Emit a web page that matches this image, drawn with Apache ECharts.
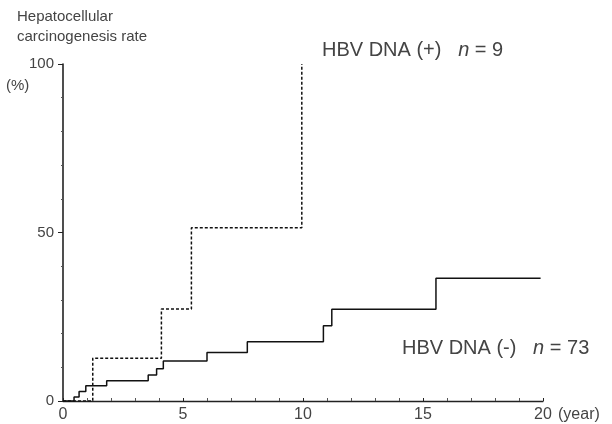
<!DOCTYPE html>
<html style="height: 100%">
   <head>
       <meta charset="utf-8">
   </head>
   <body style="height: 100%; margin: 0; background: #fff">
       <div id="container" style="height: 100%"></div>
       <script type="text/javascript" src="https://cdn.jsdelivr.net/npm/echarts@6/dist/echarts.min.js"></script>
       <script type="text/javascript">
// HBV DNA (+) group, n = 9 (year of step, cumulative rate %)
var plusYears = [0, 1.24, 4.1, 5.35, 9.95];
var plusRates = [0, 12.7, 27.3, 51.4, 100];
// HBV DNA (-) group, n = 73
var minusYears = [0, 0.46, 0.67, 0.95, 1.82, 3.55, 3.9, 4.18, 6.0, 7.68, 10.85, 11.2, 15.54, 19.9];
var minusRates = [0, 1.2, 2.8, 4.5, 6.0, 7.7, 9.6, 11.9, 14.4, 17.6, 22.3, 27.2, 36.4, 36.4];
var yTicks = [0, 50, 100];
var xTicks = [0, 5, 10, 15, 20];

var pairs = function (xs, ys) {
    var res = [];
    for (var i = 0; i < xs.length; i++) {
        res.push([xs[i], ys[i]]);
    }
    return res;
};

var dom = document.getElementById("container");
var myChart = echarts.init(dom);
var font = 'Liberation Sans, Arial, sans-serif';
var ink = '#444';

var option = {
    animation: false,
    textStyle: {fontFamily: font},
    title: {
        text: 'Hepatocellular\ncarcinogenesis rate',
        left: 12,
        top: 2,
        textStyle: {fontSize: 15, fontWeight: 'normal', color: ink, lineHeight: 20, fontFamily: font}
    },
    grid: {left: 63, right: 69, top: 64, bottom: 23},
    xAxis: {
        type: 'value',
        min: 0,
        max: 20,
        interval: 5,
        name: '(year)',
        nameLocation: 'end',
        nameGap: 15,
        nameTextStyle: {color: ink, fontSize: 16, verticalAlign: 'top', padding: [6, 0, 0, 0]},
        axisLine: {lineStyle: {color: '#222', width: 1.3}},
        axisTick: {show: true, length: 3, inside: true, lineStyle: {color: '#222'}},
        minorTick: {show: true, splitNumber: 5, length: 3, lineStyle: {color: '#555'}},
        axisLabel: {
            color: ink, fontSize: 16, margin: 6,
            formatter: function (v) { return xTicks.indexOf(v) >= 0 ? String(v) : ''; }
        },
        splitLine: {show: false}
    },
    yAxis: {
        type: 'value',
        min: 0,
        max: 100,
        interval: 50,
        axisLine: {show: true, lineStyle: {color: '#222', width: 1.6}},
        axisTick: {show: true, length: 5, lineStyle: {color: '#222'}},
        minorTick: {show: true, splitNumber: 5, length: 2, lineStyle: {color: '#555'}},
        axisLabel: {
            color: ink, fontSize: 15, margin: 9,
            formatter: function (v) { return yTicks.indexOf(v) >= 0 ? String(v) : ''; }
        },
        splitLine: {show: false}
    },
    graphic: [
        {type: 'text', left: 6, top: 78, style: {text: '(%)', font: '15px ' + font, fill: ink}},
        {type: 'text', left: 322, top: 40, style: {
            text: 'HBV DNA (+)   {i|n} = 9',
            font: '20px ' + font, fill: ink,
            rich: {i: {fontStyle: 'italic', fontSize: 20, fill: ink}}
        }},
        {type: 'text', left: 402, top: 338, style: {
            text: 'HBV DNA (-)   {i|n} = 73',
            font: '20px ' + font, fill: ink,
            rich: {i: {fontStyle: 'italic', fontSize: 20, fill: ink}}
        }}
    ],
    series: [
        {
            name: 'HBV DNA (+)',
            type: 'line',
            step: 'end',
            symbol: 'none',
            data: pairs(plusYears, plusRates),
            lineStyle: {color: '#111', width: 1.5, type: [3, 2]}
        },
        {
            name: 'HBV DNA (-)',
            type: 'line',
            step: 'end',
            symbol: 'none',
            data: pairs(minusYears, minusRates),
            lineStyle: {color: '#111', width: 1.5}
        }
    ]
};
myChart.setOption(option, true);
       </script>
   </body>
</html>
